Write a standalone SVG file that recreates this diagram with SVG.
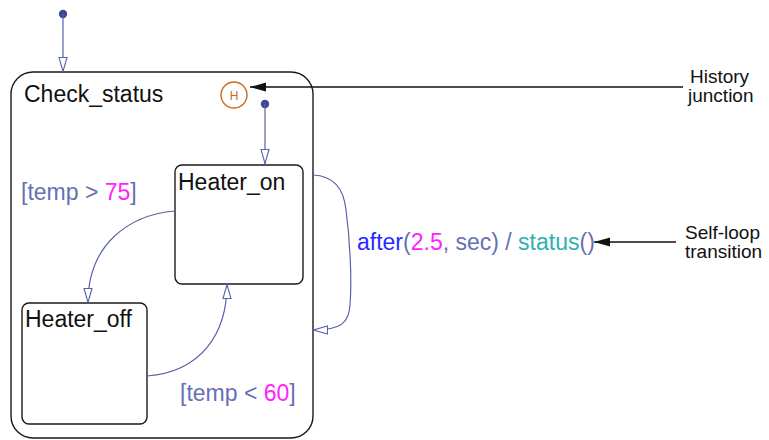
<svg xmlns="http://www.w3.org/2000/svg" width="769" height="440" viewBox="0 0 769 440">
<defs>
<style>
.state{fill:none;stroke:#1a1a1a;stroke-width:1.4}
.tr{fill:none;stroke:#5a62aa;stroke-width:1.2}
.dot{fill:#3c4894}
.name{font-family:"Liberation Sans",Arial,sans-serif;font-size:23px;fill:#111}
.lbl{font-family:"Liberation Sans",Arial,sans-serif;font-size:23px;fill:#6670b4}
.num{fill:#ff22ff}
.ev{fill:#2a2aff}
.fn{fill:#2fb0b0}
.note{font-family:"Liberation Sans",Arial,sans-serif;font-size:19px;fill:#111}
.ptr{fill:none;stroke:#111;stroke-width:1.5}
</style>
<marker id="open" viewBox="0 0 15 10" refX="15" refY="5" markerWidth="15" markerHeight="10" markerUnits="userSpaceOnUse" orient="auto">
<path d="M0.5,1 L14.5,5 L0.5,9 Z" fill="#fff" stroke="#5a62aa" stroke-width="1.1"/>
</marker>
<marker id="solid" viewBox="0 0 16 10" refX="16" refY="5" markerWidth="16" markerHeight="10" markerUnits="userSpaceOnUse" orient="auto">
<path d="M0,0.5 L16,5 L0,9.5 Z" fill="#111"/>
</marker>
</defs>
<rect width="769" height="440" fill="#fff"/>
<g id="Check_status">
<rect class="state" x="11" y="72" width="302" height="366" rx="22" ry="22"/>
<text class="name" x="24" y="102">Check_status</text>
</g>
<g id="history_junction">
<circle cx="234" cy="95" r="13" fill="none" stroke="#cc6a1e" stroke-width="1.4"/>
<text x="234" y="100" text-anchor="middle" font-family="'Liberation Sans',Arial,sans-serif" font-size="12" fill="#cc6a1e">H</text>
</g>
<g id="Heater_on">
<rect class="state" x="175" y="165" width="128" height="119" rx="7" ry="7"/>
<text class="name" x="178" y="190">Heater_on</text>
</g>
<g id="Heater_off">
<rect class="state" x="22" y="303" width="125" height="121" rx="7" ry="7"/>
<text class="name" x="25" y="327">Heater_off</text>
</g>
<g id="connectors">
<circle class="dot" cx="63" cy="14" r="4.2"/>
<path class="tr" d="M63,14 L63,72" marker-end="url(#open)"/>
<circle class="dot" cx="265" cy="104" r="4.2"/>
<path class="tr" d="M265,104 L265,164" marker-end="url(#open)"/>
<path class="tr" d="M175,211 C128,215 88,245 88,303" marker-end="url(#open)"/>
<path class="tr" d="M147,376 C200,372 227,335 227,284" marker-end="url(#open)"/>
<path class="tr" d="M313,175 C335,176 344,190 346,210 C350,240 352,280 350,305 C349,322 342,330 313,330" marker-end="url(#open)"/>
<path class="ptr" d="M683,87 L250,87" marker-end="url(#solid)"/>
<path class="ptr" d="M676,242 L594,242" marker-end="url(#solid)"/>
</g>
<g id="labels">
<text class="lbl" x="21" y="200">[temp &gt; <tspan class="num">75</tspan>]</text>
<text class="lbl" x="180" y="401">[temp &lt; <tspan class="num">60</tspan>]</text>
<text class="lbl" x="357" y="250"><tspan class="ev">after</tspan>(<tspan class="num">2.5</tspan>, sec) / <tspan class="fn">status</tspan>()</text>
<text class="note" x="690" y="83">History</text>
<text class="note" x="688" y="102">junction</text>
<text class="note" x="685" y="239">Self-loop</text>
<text class="note" x="685" y="258">transition</text>
</g>
</svg>
